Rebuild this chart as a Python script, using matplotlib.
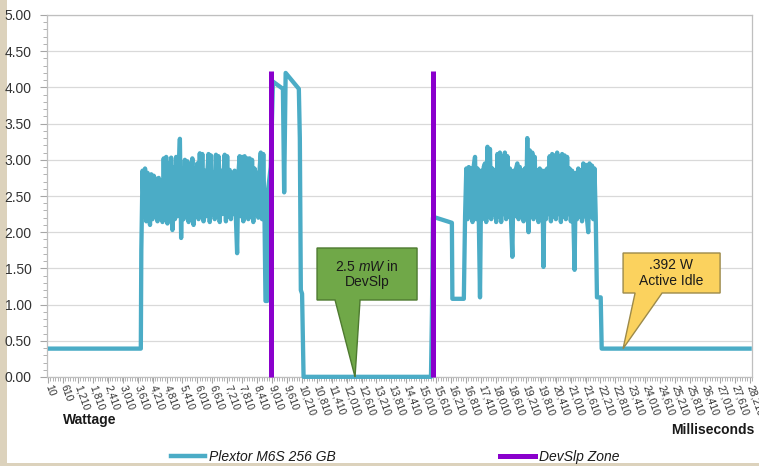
import numpy as np
import matplotlib
matplotlib.use("Agg")
import matplotlib.pyplot as plt
from matplotlib.patches import Polygon, Rectangle
from matplotlib.lines import Line2D
from matplotlib.ticker import MultipleLocator, FixedLocator, FuncFormatter

plt.rcParams['font.family'] = ['Liberation Sans', 'DejaVu Sans']
plt.rcParams['mathtext.fontset'] = 'custom'
plt.rcParams['mathtext.rm'] = 'Liberation Sans'
plt.rcParams['mathtext.it'] = 'Liberation Sans:italic'
plt.rcParams['path.simplify'] = False

# ---------------- data ----------------
pre_t = [10, 3740]
pre_w = [0.392, 0.392]

burst1_start, burst1_step = 3760, 50
burst1_w = [1.75, 2.85, 2.22, 2.88, 2.15, 2.82, 2.25, 2.10, 2.80, 2.18,
            2.78, 2.22, 2.74, 2.15, 2.75, 2.20, 2.72, 2.14, 3.02, 2.22,
            3.04, 2.12, 2.95, 2.25, 3.03, 2.03, 2.90, 2.18, 3.04, 2.22,
            2.85, 3.29, 1.92, 2.88, 2.18, 3.00, 2.22, 2.98, 2.14, 2.90,
            2.25, 3.02, 2.10, 2.88, 2.22, 2.95, 2.18, 3.09, 2.25, 3.08,
            2.15, 2.85, 2.22, 2.80, 3.08, 2.14, 3.06, 2.25, 2.82, 2.18,
            3.07, 2.22, 3.05, 2.14, 2.85, 2.25, 2.80, 3.07, 2.15, 3.05,
            2.22, 2.86, 2.18, 2.82, 2.25, 2.85, 2.20, 1.71, 2.80, 3.05,
            2.22, 3.04, 2.15, 3.05, 2.25, 3.02, 2.18, 3.02, 2.22, 3.00,
            2.14, 2.88, 2.25, 2.82, 2.20, 2.85, 3.10, 2.18, 3.08, 2.22]

mid_t = [8750, 8820, 8860, 8960, 9050, 9450, 9500, 9560, 10090, 10130,
         10170, 10220, 10280, 15400, 15440, 15480, 15600, 16240, 16260, 16720]
mid_w = [1.05, 1.05, 2.60, 2.90, 4.08, 3.98, 2.55, 4.20, 3.98, 3.30,
         1.20, 1.15, 0.0025, 0.0025, 0.90, 2.20, 2.20, 2.13, 1.08, 1.08]

burst2_start, burst2_step = 16770, 50
burst2_w = [2.22, 2.88, 2.18, 2.90, 2.25, 2.88, 2.14, 2.92, 3.04, 2.18,
            2.88, 2.22, 1.10, 2.85, 2.18, 2.90, 2.95, 2.14, 3.18, 2.22,
            3.15, 2.18, 2.88, 2.25, 2.85, 2.14, 3.08, 2.22, 3.10, 2.14,
            3.05, 2.25, 3.10, 2.18, 3.05, 2.22, 2.88, 2.14, 1.66, 2.85,
            2.22, 2.88, 2.95, 2.18, 2.90, 2.25, 2.85, 2.15, 2.88, 2.22,
            3.30, 2.00, 3.13, 2.22, 3.10, 2.18, 3.04, 2.25, 2.85, 2.14,
            2.88, 2.22, 2.85, 1.52, 2.85, 2.18, 2.88, 2.25, 3.05, 2.15,
            3.08, 2.22, 3.06, 2.18, 3.10, 2.25, 3.05, 2.14, 3.08, 2.22,
            3.06, 2.18, 3.04, 2.25, 2.88, 2.15, 2.85, 2.22, 1.48, 2.82,
            2.18, 2.88, 2.22, 2.85, 2.15, 2.95, 2.22, 2.93, 2.18, 2.00,
            2.95, 2.22, 2.92, 2.18, 2.88, 2.22]

post_t = [22070, 22220, 22260, 28290]
post_w = [1.10, 1.10, 0.392, 0.392]

devslp_t = [8970, 15480]
devslp_peak = [4.22, 4.22]

tick_ms = list(range(10, 28211, 600))
tick_labels = [f"{v:,}" for v in tick_ms]

series_name = "Plextor M6S 256 GB"
zone_name = "DevSlp Zone"

# ---------------- assemble ----------------
b1_t = burst1_start + burst1_step * np.arange(len(burst1_w))
b2_t = burst2_start + burst2_step * np.arange(len(burst2_w))
t_all = np.concatenate([pre_t, b1_t, mid_t, b2_t, post_t])
w_all = np.concatenate([pre_w, burst1_w, mid_w, burst2_w, post_w])

BLUE = '#4BACC6'
PURPLE = '#8A00CC'

W, H = 759, 466
fig = plt.figure(figsize=(W / 100, H / 100), dpi=100)
fig.patch.set_facecolor('#DCD2BC')
fig.add_artist(Rectangle((7 / W, 3 / H), 1 - 7 / W, 1 - 3 / H,
                         transform=fig.transFigure, facecolor='white',
                         edgecolor='none', zorder=-10))

L, R, T, B = 47, 752, 15, 377
ax = fig.add_axes([L / W, 1 - B / H, (R - L) / W, (B - T) / H])
ax.set_facecolor('white')

ax.plot(t_all, w_all, color=BLUE, lw=3.1, solid_joinstyle='round',
        solid_capstyle='butt', clip_on=False, zorder=3)
for tt, pk in zip(devslp_t, devslp_peak):
    ax.plot([tt, tt], [0, pk], color=PURPLE, lw=3.6, solid_capstyle='butt',
            clip_on=False, zorder=4)

ax.set_xlim(-30, 28300)
ax.set_ylim(0, 5)
ax.yaxis.set_major_locator(MultipleLocator(0.5))
ax.yaxis.set_minor_locator(MultipleLocator(0.1))
ax.yaxis.set_major_formatter(FuncFormatter(lambda v, p: f"{v:.2f}"))
ax.xaxis.set_major_locator(FixedLocator(tick_ms))
ax.set_xticklabels(tick_labels, rotation=-70, ha='left', va='center',
                   rotation_mode='anchor', fontsize=7.5, color='#333333')
ax.xaxis.set_minor_locator(MultipleLocator(100))
ax.tick_params(axis='x', which='major', length=4, color='#A6A6A6', pad=2)
ax.tick_params(axis='x', which='minor', length=3, color='#A6A6A6')
ax.tick_params(axis='y', which='major', length=5, color='#A6A6A6',
               labelsize=10, labelcolor='#333333', pad=6)
ax.tick_params(axis='y', which='minor', length=3, color='#A6A6A6')
ax.grid(axis='y', color='#D9D9D9', lw=0.9)
ax.set_axisbelow(True)
for s in ax.spines.values():
    s.set_color('#BFBFBF')
    s.set_linewidth(0.9)

# ---------------- callouts ----------------
def px_t(px):
    return 10 + (px - 48) * 40.19

def px_w(py):
    return (377 - py) * 5 / 362

green_pts = [(px_t(317), px_w(248)), (px_t(417), px_w(248)), (px_t(417), px_w(300)),
             (px_t(360), px_w(300)), (12348, 0.0), (px_t(335), px_w(300)),
             (px_t(317), px_w(300))]
ax.add_patch(Polygon(green_pts, closed=True, facecolor='#70A848',
                     edgecolor='#4E7A30', lw=1.0, zorder=6, clip_on=False))
ax.text(px_t(367), px_w(274), "2.5 $\\it{mW}$ in\nDevSlp", ha='center', va='center',
        fontsize=10, color='#1A1A1A', zorder=7, linespacing=1.15)

yellow_pts = [(px_t(623), px_w(253)), (px_t(720), px_w(253)), (px_t(720), px_w(293)),
              (px_t(662), px_w(293)), (23119, 0.392), (px_t(635), px_w(293)),
              (px_t(623), px_w(293))]
ax.add_patch(Polygon(yellow_pts, closed=True, facecolor='#FBD25E',
                     edgecolor='#9C8A4A', lw=1.0, zorder=6, clip_on=False))
ax.text(px_t(671), px_w(273), ".392 W\nActive Idle", ha='center', va='center',
        fontsize=10, color='#1A1A1A', zorder=7, linespacing=1.15)

# ---------------- axis titles ----------------
fig.text(63 / W, 1 - 420 / H, "Wattage", ha='left', va='center',
         fontsize=10, fontweight='bold', color='#1A1A1A')
fig.text(755 / W, 1 - 430 / H, "Milliseconds", ha='right', va='center',
         fontsize=10, fontweight='bold', color='#1A1A1A')

# ---------------- legend ----------------
handles = [Line2D([], [], color=BLUE, lw=3.2), Line2D([], [], color=PURPLE, lw=3.6)]
leg = fig.legend(handles, [series_name, zone_name], loc='center',
                 bbox_to_anchor=(395 / W, 1 - 457 / H), ncol=2, frameon=False,
                 handlelength=2.5, handletextpad=0.3, columnspacing=11.8,
                 prop={'size': 10, 'style': 'italic'}, borderpad=0)
for txt in leg.get_texts():
    txt.set_color('#1A1A1A')

fig.savefig("out.png", dpi=100, facecolor=fig.get_facecolor())
